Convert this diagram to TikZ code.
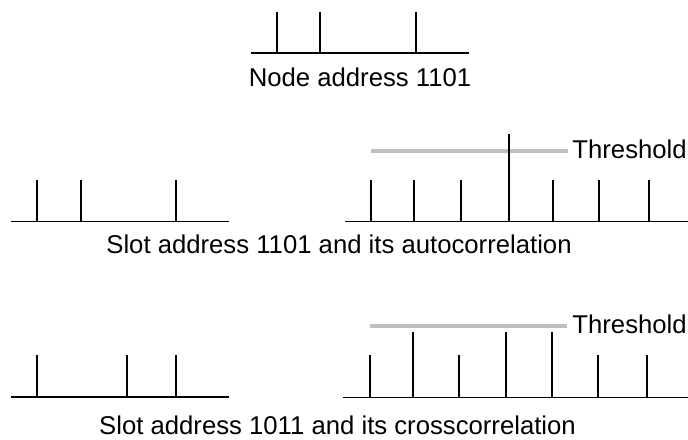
\documentclass[tikz,border=0pt]{standalone}
\usepackage{fontspec}
\setmainfont{Liberation Sans}
\definecolor{thrgray}{HTML}{BFBFBF}
\begin{document}
\begin{tikzpicture}[x=0.5pt,y=-0.5pt,
  axis/.style={line width=0.6pt,black},
  tick/.style={line width=0.6pt,black},
  thr/.style={line width=2.2pt,thrgray},
  lbl/.style={inner sep=0pt,font=\fontsize{12.85pt}{15.5pt}\selectfont}]
\useasboundingbox (0,0) rectangle (688,439);

% node address 1101
\draw[axis] (251,53) -- (469,53);
\foreach \x in {277,320,416} \draw[tick] (\x,53) -- (\x,12);
\node[lbl,anchor=base] (nodeaddr) at (360,86) {Node address 1101};

% slot address 1101
\draw[axis] (11,221.5) -- (229,221.5);
\foreach \x in {37,81,176} \draw[tick] (\x,221.5) -- (\x,180);

% its autocorrelation
\draw[axis] (345,221.5) -- (688,221.5);
\foreach \x in {371,414,461,553,599,649} \draw[tick] (\x,221.5) -- (\x,180);
\draw[thr] (371,151) -- (568,151);
\draw[tick] (509,221.5) -- (509,134);
\node[lbl,anchor=base west] (thra) at (572,158.3) {Threshold};
\node[lbl,anchor=base] (capa) at (339,253.3) {Slot address 1101 and its autocorrelation};

% slot address 1011
\draw[axis] (11,397) -- (229,397);
\foreach \x in {37,127,176} \draw[tick] (\x,397) -- (\x,355);

% its crosscorrelation
\draw[axis] (343,397.5) -- (688,397.5);
\foreach \x in {370,459,598,647} \draw[tick] (\x,397.5) -- (\x,355);
\foreach \x in {413,506,552} \draw[tick] (\x,397.5) -- (\x,332);
\draw[thr] (370,326) -- (567,326);
\node[lbl,anchor=base west] (thrb) at (572,333.3) {Threshold};
\node[lbl,anchor=base] (capb) at (337.5,434) {Slot address 1011 and its crosscorrelation};
\end{tikzpicture}
\end{document}
